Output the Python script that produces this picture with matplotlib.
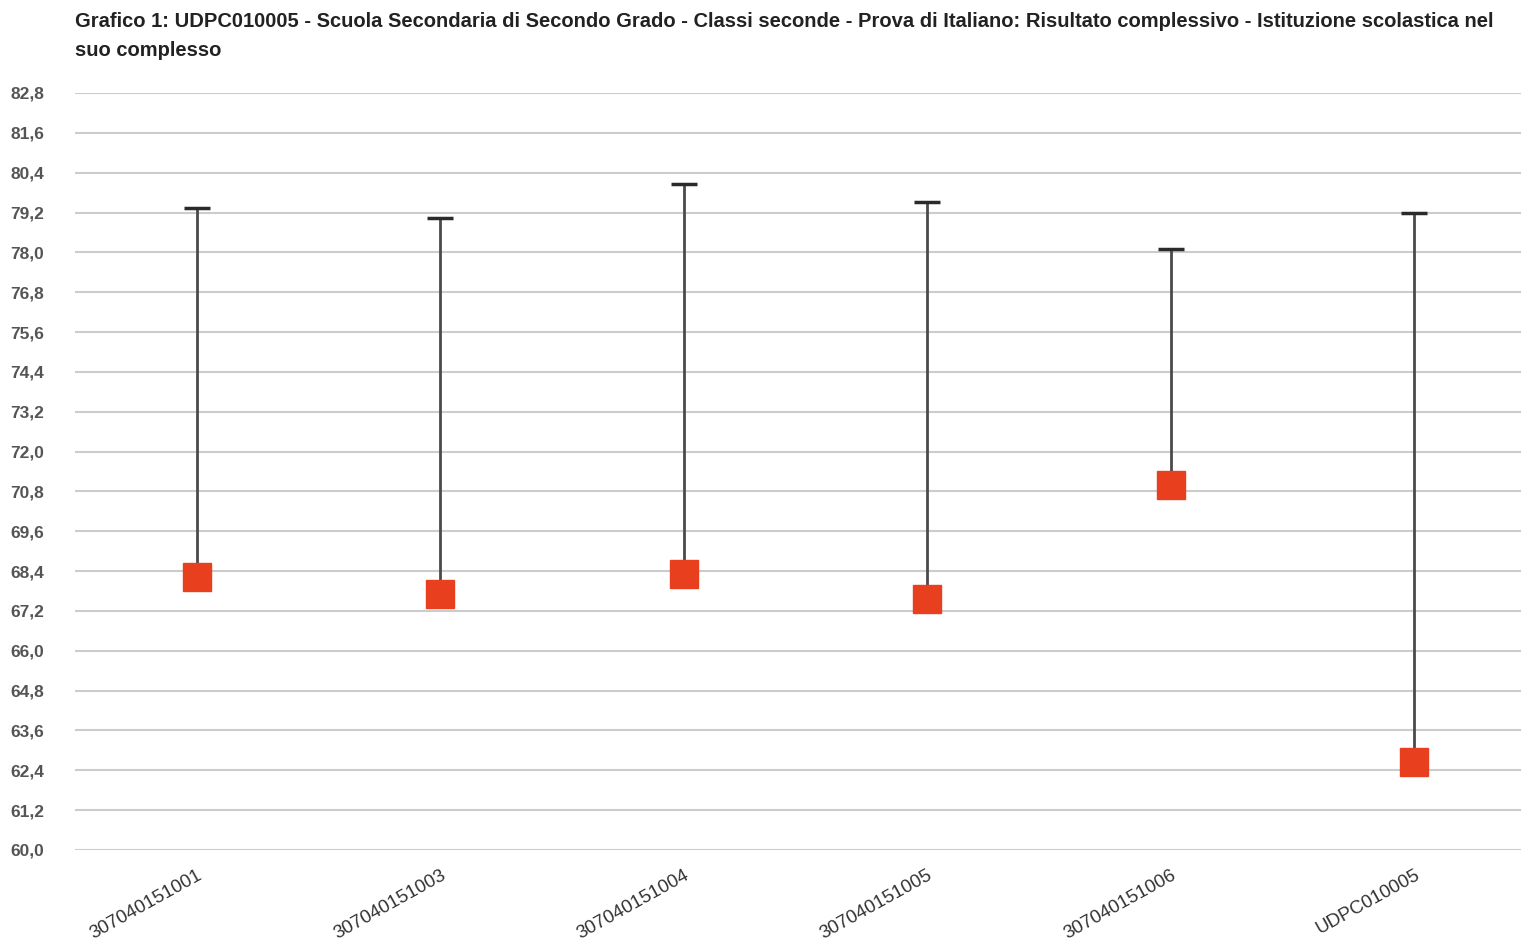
import matplotlib.pyplot as plt

plt.rcParams['font.family'] = ['Liberation Sans', 'DejaVu Sans']

classi = ['307040151001', '307040151003', '307040151004', '307040151005', '307040151006', 'UDPC010005']
punteggio = [68.22, 67.72, 68.32, 67.55, 70.98, 62.64]
limite_inf = [67.80, 67.72, 68.32, 67.55, 70.98, 62.64]
limite_sup = [79.34, 79.04, 80.06, 79.52, 78.10, 79.18]
y_ticks = [60.0 + 1.2 * i for i in range(20)]
y_labels = [f'{v:.1f}'.replace('.', ',') for v in y_ticks]

titolo = ('Grafico 1: UDPC010005 - Scuola Secondaria di Secondo Grado - Classi seconde - '
          'Prova di Italiano: Risultato complessivo - Istituzione scolastica nel\nsuo complesso')

fig = plt.figure(figsize=(15.21, 9.5), dpi=100)
ax = fig.add_axes([75 / 1521, 100 / 950, 1461 / 1521, 757 / 950])

x = list(range(len(classi)))
ax.vlines(x, limite_inf, limite_sup, color='#4a4a4a', linewidth=2, zorder=3)
ax.plot(x, limite_sup, linestyle='none', marker='_', markersize=19, markeredgewidth=2.5,
        color='#2a2a2a', zorder=3)
ax.plot(x, punteggio, linestyle='none', marker='s', markersize=20,
        markerfacecolor='#e8401f', markeredgecolor='#e8401f', zorder=4)

ax.set_xlim(-0.5, len(classi) - 0.5)
ax.set_ylim(60.0, 82.8)
ax.set_yticks(y_ticks)
ax.set_yticklabels(y_labels, fontsize=12.5, color='#555555', fontweight='bold')
ax.set_xticks(x)
ax.set_xticklabels(classi, rotation=29, ha='right', rotation_mode='anchor',
                   fontsize=13.5, color='#333333')
ax.tick_params(axis='both', length=0)
ax.tick_params(axis='y', pad=22)
ax.tick_params(axis='x', pad=12)
ax.grid(axis='y', color='#cccccc', linewidth=1.5)
ax.set_axisbelow(True)
for s in ax.spines.values():
    s.set_visible(False)

fig.text(75 / 1521, 1 - 12 / 950, titolo, fontsize=14.5, fontweight='bold', color='#222222',
         va='top', ha='left', linespacing=1.7)

fig.savefig('out.png', dpi=100)
